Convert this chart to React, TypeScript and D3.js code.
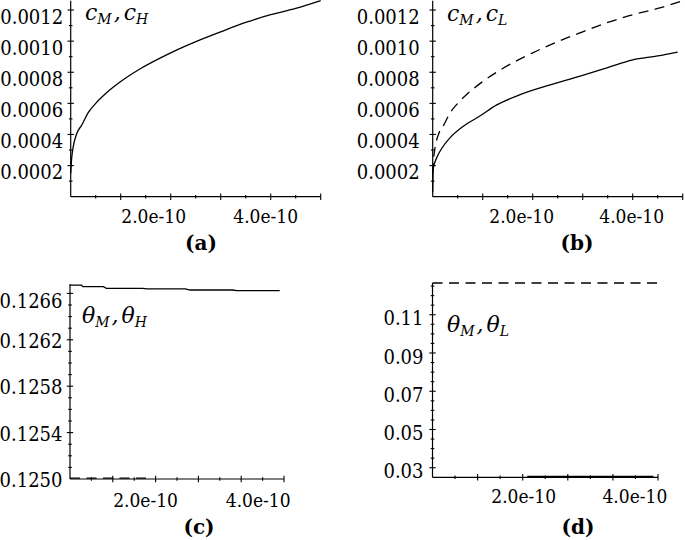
import React from "react";
import * as d3 from "d3";

// time values in units of 1e-10
const T_UNIT = 1e-10;

// c_M (== c_H in panel a), dashed in panel b
const T_CM = [0, 0.02, 0.05, 0.12, 0.22, 0.35, 0.5, 0.7, 1.0, 1.4, 2.0, 2.6, 3.0, 3.5, 4.0, 4.5, 5.0];
const CM = [0.00015, 0.00025, 0.00032, 0.000405, 0.00046, 0.00054, 0.0006, 0.000663, 0.00074, 0.000824, 0.000925, 0.00101, 0.00106, 0.00112, 0.00117, 0.00121, 0.00126];

// c_L (solid, panel b)
const T_CL = [0, 0.01, 0.08, 0.18, 0.35, 0.6, 0.95, 1.28, 1.7, 2.28, 2.95, 3.5, 4.0, 4.5, 4.9];
const CL = [0.00003, 0.00018, 0.00025, 0.00031, 0.00038, 0.00045, 0.00052, 0.00059, 0.00065, 0.000712, 0.000775, 0.00083, 0.00088, 0.000905, 0.00093];

// theta_M (solid, panel c)
const T_THM = [0, 0.27, 0.3, 0.78, 0.85, 1.7, 1.8, 2.7, 2.8, 3.8, 3.9, 4.9];
const THM = [0.126672, 0.126672, 0.126658, 0.126658, 0.126644, 0.126644, 0.126638, 0.126638, 0.126629, 0.126629, 0.126623, 0.126623];

// theta_H (dashed, panel c)
const T_THH = [0, 1.9];
const THH = [0.125008, 0.125008];

// theta_M (dashed, panel d)
const T_THM_D = [0, 5.0];
const THM_D = [0.1266, 0.1266];

// theta_L (solid, panel d)
const T_THL = [2.1, 4.9];
const THL = [0.0255, 0.0255];

const X_LABEL_VALUES = [2, 4];
const X_LABELS = ["2.0e-10", "4.0e-10"];

const Y_LABELS_C = [0.0002, 0.0004, 0.0006, 0.0008, 0.001, 0.0012];
const Y_LABELS_THETA_H = [0.125, 0.1254, 0.1258, 0.1262, 0.1266];
const Y_LABELS_THETA_L = [0.03, 0.05, 0.07, 0.09, 0.11];

const FONT = "'DejaVu Serif Condensed', 'DejaVu Serif', serif";
const FONT_LEGEND = "'DejaVu Serif', serif";
const DASH = "10,6.5";

type Series = { t: number[]; v: number[]; dash: string | null; smooth: boolean };

interface Panel {
  title: string;
  titleX: number;
  titleY: number;
  xRange: [number, number];
  yRange: [number, number];
  yDomain: [number, number];
  yTickStep: number;
  yLabels: number[];
  yDigits: number;
  yLabelGap: number;
  yLabelDy: number;
  yTopLabelNudge: number;
  xLabelDx: number[];
  xLabelY: number;
  legend: { x: number; y: number; sym: string; s1: string; s2: string };
  series: Series[];
}

const panels: Panel[] = [
  {
    title: "(a)", titleX: 201, titleY: 250,
    xRange: [70.7, 320.7], yRange: [196.7, 0.7], yDomain: [0, 0.00126],
    yTickStep: 0.0001, yLabels: Y_LABELS_C, yDigits: 4, yLabelGap: 7.5, yLabelDy: 6.5, yTopLabelNudge: 0,
    xLabelDx: [-17, -5], xLabelY: 216,
    legend: { x: 85, y: 20, sym: "c", s1: "M", s2: "H" },
    series: [{ t: T_CM, v: CM, dash: null, smooth: true }],
  },
  {
    title: "(b)", titleX: 577, titleY: 250,
    xRange: [432.7, 682.7], yRange: [196.7, 0.7], yDomain: [0, 0.00126],
    yTickStep: 0.0001, yLabels: Y_LABELS_C, yDigits: 4, yLabelGap: 13, yLabelDy: 6.5, yTopLabelNudge: 0,
    xLabelDx: [-11, -1], xLabelY: 216,
    legend: { x: 447, y: 21, sym: "c", s1: "M", s2: "L" },
    series: [
      { t: T_CM, v: CM, dash: DASH, smooth: true },
      { t: T_CL, v: CL, dash: null, smooth: true },
    ],
  },
  {
    title: "(c)", titleX: 199, titleY: 534,
    xRange: [70, 284], yRange: [479, 284.1], yDomain: [0.125, 0.12668],
    yTickStep: 0.0001, yLabels: Y_LABELS_THETA_H, yDigits: 4, yLabelGap: 7.5, yLabelDy: 1, yTopLabelNudge: 6,
    xLabelDx: [-10, 17], xLabelY: 500,
    legend: { x: 82, y: 323, sym: "θ", s1: "M", s2: "H" },
    series: [
      { t: T_THM, v: THM, dash: null, smooth: false },
      { t: T_THH, v: THH, dash: DASH, smooth: false },
    ],
  },
  {
    title: "(d)", titleX: 578, titleY: 534,
    xRange: [432.5, 658], yRange: [477.3, 283], yDomain: [0.025, 0.1266],
    yTickStep: 0.005, yLabels: Y_LABELS_THETA_L, yDigits: 2, yLabelGap: 9, yLabelDy: 3.5, yTopLabelNudge: 0,
    xLabelDx: [1, 22], xLabelY: 496,
    legend: { x: 447, y: 332, sym: "θ", s1: "M", s2: "L" },
    series: [
      { t: T_THM_D, v: THM_D, dash: DASH, smooth: false },
      { t: T_THL, v: THL, dash: null, smooth: false },
    ],
  },
];

function PanelView({ p }: { p: Panel }) {
  const x = d3.scaleLinear().domain([0, 5 * T_UNIT]).range(p.xRange);
  const y = d3.scaleLinear().domain(p.yDomain).range(p.yRange);
  const [x0, x1] = p.xRange;
  const [yb, yt] = p.yRange;

  const xTicks = d3.range(1, 11).map((i) => i * 0.5);
  const nY = Math.floor((p.yDomain[1] - p.yDomain[0]) / p.yTickStep + 1e-6);
  const yTicks = d3.range(1, nY + 1).map((i) => p.yDomain[0] + i * p.yTickStep);
  const isLabeled = (v: number) => p.yLabels.some((l) => Math.abs(l - v) < p.yTickStep * 0.01);

  const makeLine = (smooth: boolean) =>
    d3
      .line<[number, number]>()
      .x((d) => x(d[0] * T_UNIT))
      .y((d) => y(d[1]))
      .curve(smooth ? d3.curveMonotoneX : d3.curveLinear);

  return (
    <g>
      {/* axes */}
      <line x1={x0} x2={x1} y1={yb} y2={yb} stroke="#000" strokeWidth={1.2} />
      <line x1={x0} x2={x0} y1={yb} y2={yt} stroke="#000" strokeWidth={1.2} />
      {xTicks.map((t, i) => {
        const major = Math.abs(t - Math.round(t)) < 1e-9;
        const h = major ? 3.2 : 1.8;
        return (
          <line key={"xt" + i} x1={x(t * T_UNIT)} x2={x(t * T_UNIT)} y1={yb - h} y2={yb + h} stroke="#000" strokeWidth={1.1} />
        );
      })}
      {yTicks.map((v, i) => {
        const h = isLabeled(v) ? 3.2 : 1.8;
        return <line key={"yt" + i} x1={x0 - h} x2={x0 + h} y1={y(v)} y2={y(v)} stroke="#000" strokeWidth={1.1} />;
      })}
      {X_LABEL_VALUES.map((v, i) => (
        <text key={"xl" + i} x={x(v * T_UNIT) + p.xLabelDx[i]} y={p.xLabelY} dy="0.36em" textAnchor="middle" fontFamily={FONT} fontSize={19} fill="#000">
          {X_LABELS[i]}
        </text>
      ))}
      {p.yLabels.map((v, i) => (
        <text
          key={"yl" + i}
          x={x0 - p.yLabelGap}
          y={y(v) + p.yLabelDy + (i === p.yLabels.length - 1 ? p.yTopLabelNudge : 0)}
          dy="0.36em"
          textAnchor="end"
          fontFamily={FONT}
          fontSize={20}
          fill="#000"
        >
          {v.toFixed(p.yDigits)}
        </text>
      ))}
      {/* series */}
      {p.series.map((s, i) => (
        <path
          key={"s" + i}
          d={makeLine(s.smooth)(s.t.map((t, j) => [t, s.v[j]] as [number, number])) || ""}
          fill="none"
          stroke="#000"
          strokeWidth={1.3}
          strokeDasharray={s.dash || undefined}
        />
      ))}
      {/* legend */}
      <text x={p.legend.x} y={p.legend.y} fontFamily={FONT_LEGEND} fontStyle="italic" fontSize={22} fill="#000">
        <tspan>{p.legend.sym}</tspan>
        <tspan fontSize={14} dy={4}>{p.legend.s1}</tspan>
        <tspan dy={-4} dx={2}>,</tspan>
        <tspan dx={3}>{p.legend.sym}</tspan>
        <tspan fontSize={14} dy={4}>{p.legend.s2}</tspan>
      </text>
      {/* title */}
      <text x={p.titleX} y={p.titleY} textAnchor="middle" fontFamily={FONT_LEGEND} fontWeight="bold" fontSize={20} fill="#000">
        {p.title}
      </text>
    </g>
  );
}

export default function App() {
  return (
    <svg
      width={685}
      height={540}
      viewBox="0 0 685 540"
      style={{ position: "absolute", left: 0, top: 0, background: "#fff" }}
    >
      <rect width={685} height={540} fill="#fff" />
      {panels.map((p) => (
        <PanelView key={p.title} p={p} />
      ))}
    </svg>
  );
}
